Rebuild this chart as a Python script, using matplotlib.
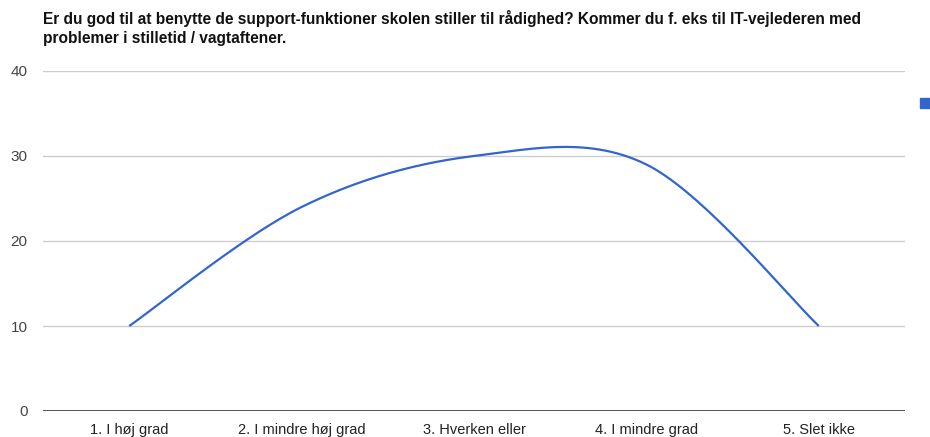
import numpy as np
import matplotlib
matplotlib.use("Agg")
import matplotlib.pyplot as plt
from matplotlib.patches import Rectangle

plt.rcParams['font.family'] = ['Liberation Sans', 'DejaVu Sans']

title = ("Er du god til at benytte de support-funktioner skolen stiller til rådighed? Kommer du f. eks til IT-vejlederen med\n"
         "problemer i stilletid / vagtaftener.")
categories = ["1. I høj grad", "2. I mindre høj grad", "3. Hverken eller", "4. I mindre grad", "5. Slet ikke"]
values = [10, 24, 30, 29, 10]
yticks = [0, 10, 20, 30, 40]

W, H = 930, 437
fig = plt.figure(figsize=(W / 100, H / 100), dpi=100)
ax = fig.add_axes([43 / W, (H - 411) / H, (905 - 43) / W, (411 - 71) / H])

# Catmull-Rom style smoothing through data points
xs = np.arange(len(values)) + 0.5
ys = np.array(values, dtype=float)
px = np.concatenate([[xs[0]], xs, [xs[-1]]])
py = np.concatenate([[ys[0]], ys, [ys[-1]]])
cx, cy = [], []
t = np.linspace(0, 1, 60)
for i in range(1, len(px) - 2):
    p0 = np.array([px[i], py[i]])
    p3 = np.array([px[i + 1], py[i + 1]])
    c1 = p0 + (np.array([px[i + 1], py[i + 1]]) - np.array([px[i - 1], py[i - 1]])) / 6
    c2 = p3 - (np.array([px[i + 2], py[i + 2]]) - np.array([px[i], py[i]])) / 6
    b = ((1 - t) ** 3)[:, None] * p0 + (3 * (1 - t) ** 2 * t)[:, None] * c1 \
        + (3 * (1 - t) * t ** 2)[:, None] * c2 + (t ** 3)[:, None] * p3
    cx.extend(b[:, 0]); cy.extend(b[:, 1])

ax.plot(cx, cy, color="#3366CC", lw=1.6, solid_capstyle='butt', zorder=3)

ax.set_xlim(0, len(values))
ax.set_ylim(0, 40)
ax.set_yticks(yticks)
for yv in yticks[1:]:
    ax.axhline(yv, color="#cccccc", lw=1, zorder=1)
ax.axhline(0, color="#333333", lw=1.2, zorder=2)
for s in ax.spines.values():
    s.set_visible(False)
ax.tick_params(axis='y', length=0, labelsize=11, colors="#444444", pad=11)
ax.tick_params(axis='x', length=0, labelsize=10.5, colors="#222222", pad=8.5)
ax.set_xticks(xs)
ax.set_xticklabels(categories)
ax.set_yticklabels([str(v) for v in yticks])

fig.text(43 / W, 1 - 10 / H, title, ha='left', va='top', fontsize=11.2,
         fontweight='bold', color="#111111", linespacing=1.35)

fig.patches.append(Rectangle((920 / W, (H - 108) / H), 12 / W, 10 / H,
                             transform=fig.transFigure, color="#3366CC"))

fig.savefig("out.png", dpi=100)
